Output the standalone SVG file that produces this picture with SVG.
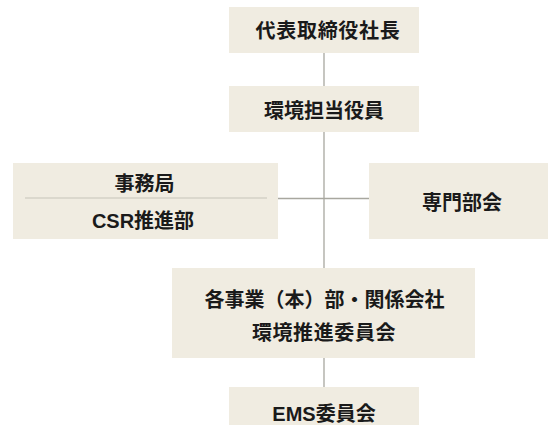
<svg xmlns="http://www.w3.org/2000/svg" width="548" height="425" viewBox="0 0 548 425">
<style>
.box{fill:#f0ece1}
.t{font-family:"Noto Sans CJK JP","Noto Sans",sans-serif;font-size:20px;font-weight:600;fill:#1a1a1a;text-anchor:middle}
.l{font-family:"Liberation Sans","Noto Sans CJK JP",sans-serif}
.c{stroke:#a8a79f;stroke-width:1.3;fill:none}
.div{stroke:#d4d2c6;stroke-width:1.5}
</style>
<rect width="548" height="425" fill="#ffffff"/>
<g id="connectors">
<line class="c" x1="324" y1="53" x2="324" y2="86"/>
<line class="c" x1="324" y1="132" x2="324" y2="268"/>
<line class="c" x1="278" y1="198.5" x2="369" y2="198.5"/>
<line class="c" x1="324" y1="358" x2="324" y2="387"/>
</g>
<g id="president">
<rect class="box" x="229" y="7" width="190" height="46"/>
<text class="t" x="328" y="38" letter-spacing="0.7">代表取締役社長</text>
</g>
<g id="env-officer">
<rect class="box" x="229" y="86" width="190" height="46"/>
<text class="t" x="324" y="117.5">環境担当役員</text>
</g>
<g id="secretariat">
<rect class="box" x="13" y="163" width="265" height="76"/>
<line class="div" x1="25" y1="198" x2="267" y2="198"/>
<text class="t" x="144.5" y="190.5">事務局</text>
<text class="t l" x="143" y="227.5">CSR推進部</text>
</g>
<g id="expert">
<rect class="box" x="369" y="163" width="186" height="76"/>
<text class="t" x="462" y="209.5">専門部会</text>
</g>
<g id="committee">
<rect class="box" x="172" y="268" width="303" height="90"/>
<text class="t" x="324.5" y="307">各事業（本）部・関係会社</text>
<text class="t" x="324" y="339.5" letter-spacing="0.6">環境推進委員会</text>
</g>
<g id="ems">
<rect class="box" x="229" y="387" width="190" height="46"/>
<text class="t l" x="324" y="420.5">EMS委員会</text>
</g>
</svg>
